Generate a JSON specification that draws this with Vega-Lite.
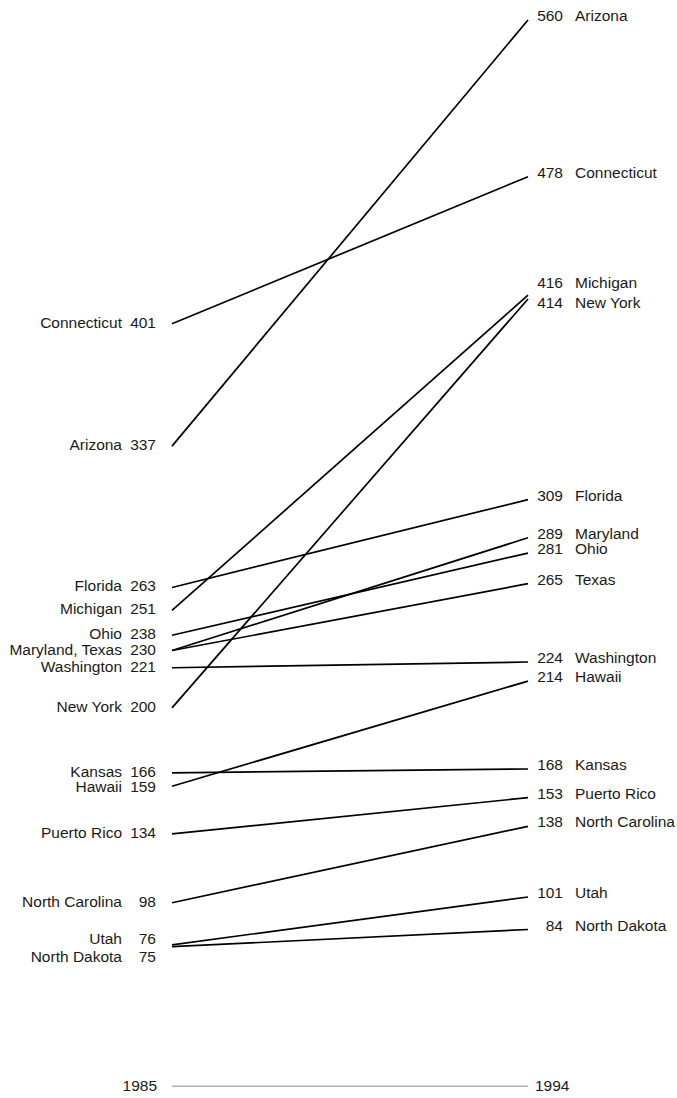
{
  "$schema": "https://vega.github.io/schema/vega-lite/v6.json",
  "autosize": {"type": "none"},
  "padding": {"left": 172, "top": 20, "right": 149, "bottom": 8},
  "width": 356,
  "height": 1070,
  "background": "white",
  "config": {"view": {"stroke": null}, "text": {"font": "Liberation Sans", "fontSize": 15.5, "color": "#1a1a1a"}},
  "datasets": {
    "states": [
      {"state": "Arizona", "year": 1985, "value": 337, "label": "Arizona"},
      {"state": "Arizona", "year": 1994, "value": 560, "label": "Arizona"},
      {"state": "Connecticut", "year": 1985, "value": 401, "label": "Connecticut"},
      {"state": "Connecticut", "year": 1994, "value": 478, "label": "Connecticut"},
      {"state": "Michigan", "year": 1985, "value": 251, "label": "Michigan"},
      {"state": "Michigan", "year": 1994, "value": 416, "label": "Michigan"},
      {"state": "New York", "year": 1985, "value": 200, "label": "New York"},
      {"state": "New York", "year": 1994, "value": 414, "label": "New York"},
      {"state": "Florida", "year": 1985, "value": 263, "label": "Florida"},
      {"state": "Florida", "year": 1994, "value": 309, "label": "Florida"},
      {"state": "Maryland", "year": 1985, "value": 230, "label": "Maryland, Texas"},
      {"state": "Maryland", "year": 1994, "value": 289, "label": "Maryland"},
      {"state": "Ohio", "year": 1985, "value": 238, "label": "Ohio"},
      {"state": "Ohio", "year": 1994, "value": 281, "label": "Ohio"},
      {"state": "Texas", "year": 1985, "value": 230, "label": ""},
      {"state": "Texas", "year": 1994, "value": 265, "label": "Texas"},
      {"state": "Washington", "year": 1985, "value": 221, "label": "Washington"},
      {"state": "Washington", "year": 1994, "value": 224, "label": "Washington"},
      {"state": "Hawaii", "year": 1985, "value": 159, "label": "Hawaii"},
      {"state": "Hawaii", "year": 1994, "value": 214, "label": "Hawaii"},
      {"state": "Kansas", "year": 1985, "value": 166, "label": "Kansas"},
      {"state": "Kansas", "year": 1994, "value": 168, "label": "Kansas"},
      {"state": "Puerto Rico", "year": 1985, "value": 134, "label": "Puerto Rico"},
      {"state": "Puerto Rico", "year": 1994, "value": 153, "label": "Puerto Rico"},
      {"state": "North Carolina", "year": 1985, "value": 98, "label": "North Carolina"},
      {"state": "North Carolina", "year": 1994, "value": 138, "label": "North Carolina"},
      {"state": "Utah", "year": 1985, "value": 76, "label": "Utah"},
      {"state": "Utah", "year": 1994, "value": 101, "label": "Utah"},
      {"state": "North Dakota", "year": 1985, "value": 75, "label": "North Dakota"},
      {"state": "North Dakota", "year": 1994, "value": 84, "label": "North Dakota"}
    ],
    "years": [
      {"year": 1985},
      {"year": 1994}
    ]
  },
  "encoding": {
    "x": {"field": "year", "type": "quantitative", "scale": {"domain": [1985, 1994], "nice": false, "zero": false}, "axis": null}
  },
  "layer": [
    {
      "data": {"name": "years"},
      "encoding": {"y": {"datum": 2, "type": "quantitative", "scale": {"domain": [0, 560], "nice": false, "zero": true}, "axis": null}},
      "layer": [
        {"mark": {"type": "line", "color": "#8a8a8a", "strokeWidth": 1}},
        {
          "transform": [{"filter": "datum.year == 1985"}],
          "mark": {"type": "text", "align": "right", "baseline": "middle", "dx": -15},
          "encoding": {"text": {"field": "year", "type": "nominal"}}
        },
        {
          "transform": [{"filter": "datum.year == 1994"}],
          "mark": {"type": "text", "align": "left", "baseline": "middle", "dx": 7},
          "encoding": {"text": {"field": "year", "type": "nominal"}}
        }
      ]
    },
    {
      "data": {"name": "states"},
      "encoding": {"y": {"field": "value", "type": "quantitative", "scale": {"domain": [0, 560], "nice": false, "zero": true}, "axis": null}},
      "layer": [
        {
          "mark": {"type": "line", "color": "#000000", "strokeWidth": 1.7},
          "encoding": {"detail": {"field": "state", "type": "nominal"}}
        },
        {
          "transform": [{"filter": "datum.year == 1985 && datum.label != '' && datum.state != 'Utah' && datum.state != 'North Dakota' && datum.state != 'Hawaii'"}],
          "mark": {"type": "text", "align": "right", "baseline": "middle", "dx": -16, "dy": -1},
          "encoding": {"text": {"field": "value", "type": "quantitative"}}
        },
        {
          "transform": [{"filter": "datum.year == 1985 && datum.label != '' && datum.state != 'Utah' && datum.state != 'North Dakota' && datum.state != 'Hawaii'"}],
          "mark": {"type": "text", "align": "right", "baseline": "middle", "dx": -50, "dy": -1},
          "encoding": {"text": {"field": "label", "type": "nominal"}}
        },
        {
          "transform": [{"filter": "datum.year == 1985 && datum.state == 'Utah'"}],
          "mark": {"type": "text", "align": "right", "baseline": "middle", "dx": -16, "dy": -6},
          "encoding": {"text": {"field": "value", "type": "quantitative"}}
        },
        {
          "transform": [{"filter": "datum.year == 1985 && datum.state == 'Utah'"}],
          "mark": {"type": "text", "align": "right", "baseline": "middle", "dx": -50, "dy": -6},
          "encoding": {"text": {"field": "label", "type": "nominal"}}
        },
        {
          "transform": [{"filter": "datum.year == 1985 && datum.state == 'Hawaii'"}],
          "mark": {"type": "text", "align": "right", "baseline": "middle", "dx": -16, "dy": 1},
          "encoding": {"text": {"field": "value", "type": "quantitative"}}
        },
        {
          "transform": [{"filter": "datum.year == 1985 && datum.state == 'Hawaii'"}],
          "mark": {"type": "text", "align": "right", "baseline": "middle", "dx": -50, "dy": 1},
          "encoding": {"text": {"field": "label", "type": "nominal"}}
        },
        {
          "transform": [{"filter": "datum.year == 1985 && datum.state == 'North Dakota'"}],
          "mark": {"type": "text", "align": "right", "baseline": "middle", "dx": -16, "dy": 10},
          "encoding": {"text": {"field": "value", "type": "quantitative"}}
        },
        {
          "transform": [{"filter": "datum.year == 1985 && datum.state == 'North Dakota'"}],
          "mark": {"type": "text", "align": "right", "baseline": "middle", "dx": -50, "dy": 10},
          "encoding": {"text": {"field": "label", "type": "nominal"}}
        },
        {
          "transform": [{"filter": "datum.year == 1994 && datum.state != 'Michigan' && datum.state != 'New York'"}],
          "mark": {"type": "text", "align": "right", "baseline": "middle", "dx": 35, "dy": -4},
          "encoding": {"text": {"field": "value", "type": "quantitative"}}
        },
        {
          "transform": [{"filter": "datum.year == 1994 && datum.state != 'Michigan' && datum.state != 'New York'"}],
          "mark": {"type": "text", "align": "left", "baseline": "middle", "dx": 47, "dy": -4},
          "encoding": {"text": {"field": "label", "type": "nominal"}}
        },
        {
          "transform": [{"filter": "datum.year == 1994 && datum.state == 'Michigan'"}],
          "mark": {"type": "text", "align": "right", "baseline": "middle", "dx": 35, "dy": -12},
          "encoding": {"text": {"field": "value", "type": "quantitative"}}
        },
        {
          "transform": [{"filter": "datum.year == 1994 && datum.state == 'Michigan'"}],
          "mark": {"type": "text", "align": "left", "baseline": "middle", "dx": 47, "dy": -12},
          "encoding": {"text": {"field": "label", "type": "nominal"}}
        },
        {
          "transform": [{"filter": "datum.year == 1994 && datum.state == 'New York'"}],
          "mark": {"type": "text", "align": "right", "baseline": "middle", "dx": 35, "dy": 4},
          "encoding": {"text": {"field": "value", "type": "quantitative"}}
        },
        {
          "transform": [{"filter": "datum.year == 1994 && datum.state == 'New York'"}],
          "mark": {"type": "text", "align": "left", "baseline": "middle", "dx": 47, "dy": 4},
          "encoding": {"text": {"field": "label", "type": "nominal"}}
        }
      ]
    }
  ]
}
